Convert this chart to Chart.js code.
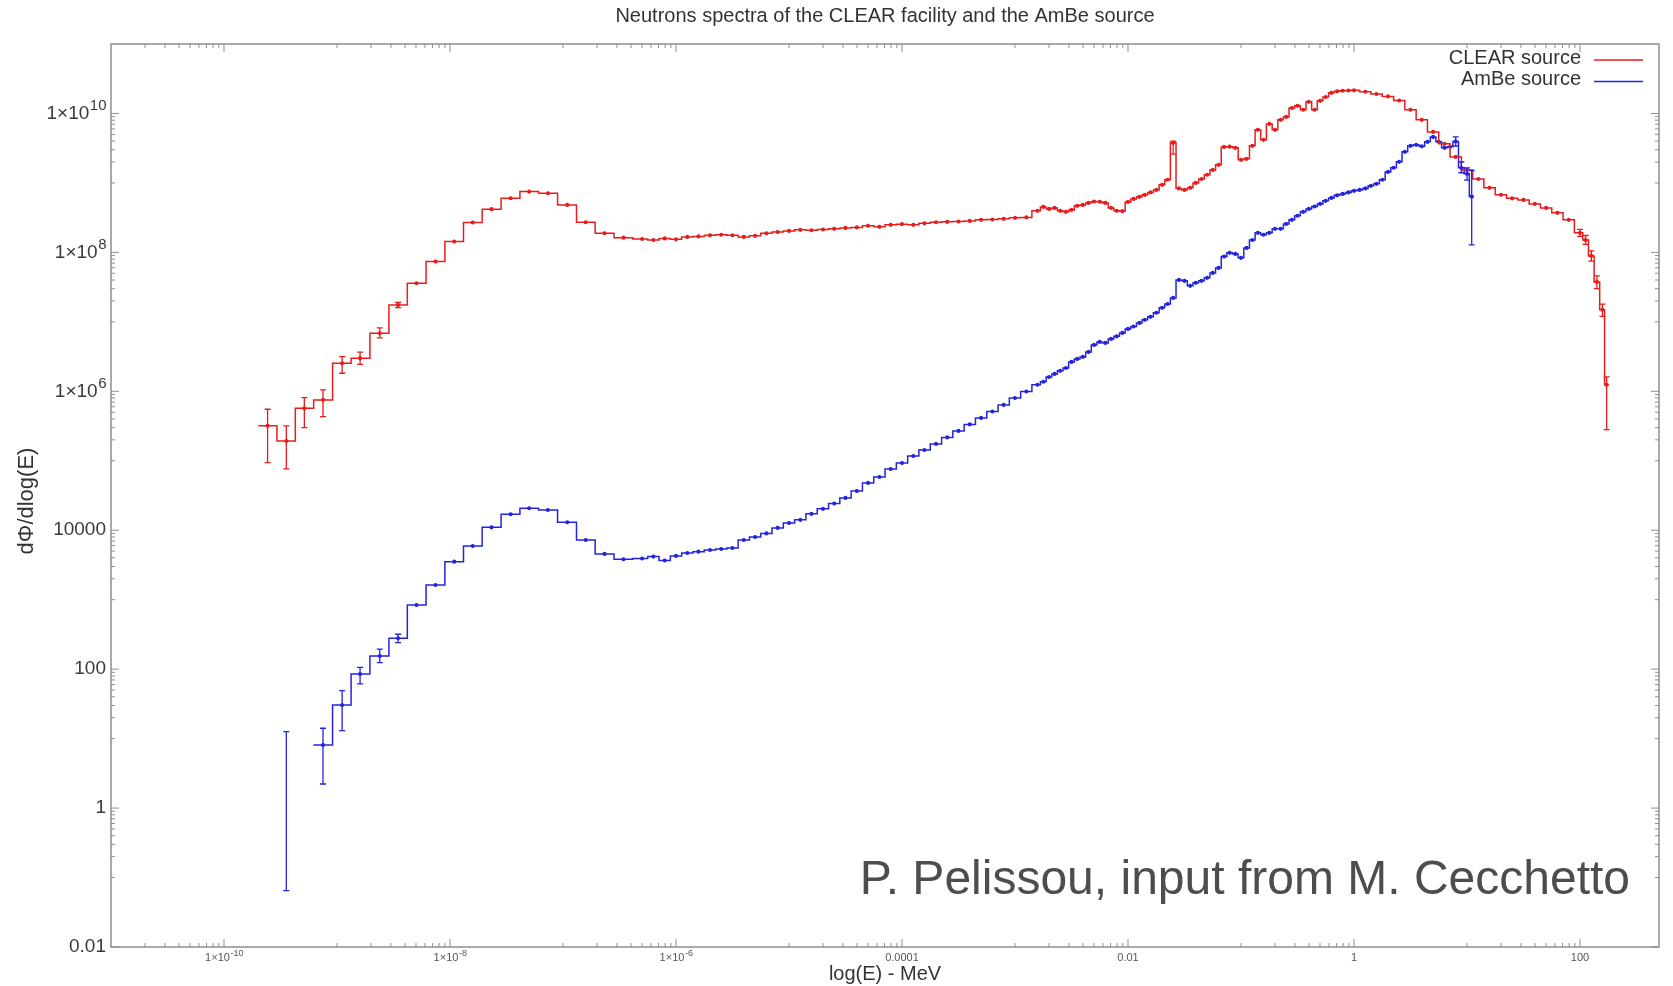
<!DOCTYPE html>
<html>
<head>
<meta charset="utf-8">
<title>Neutrons spectra</title>
<script src="https://cdn.jsdelivr.net/npm/chart.js@4.4.1/dist/chart.umd.min.js"></script>
<style>
  html, body { margin: 0; padding: 0; background: #fff; }
  #wrap { width: 1673px; height: 986px; }
</style>
</head>
<body>
<div id="wrap"><canvas id="spectra" width="1673" height="986"></canvas></div>
<script>
// Texts
const chartTitle = 'Neutrons spectra of the CLEAR facility and the AmBe source';
const xAxisTitle = 'log(E) - MeV';
const yAxisTitle = 'dΦ/dlog(E)';
const creditText = 'P. Pelissou, input from M. Cecchetto';

// Tick labels (^ marks an exponent)
const xTickValues = [1e-10, 1e-8, 1e-6, 1e-4, 0.01, 1, 100];
const xTickLabels = ['1×10^-10', '1×10^-8', '1×10^-6', '0.0001', '0.01', '1', '100'];
const yTickValues = [0.01, 1, 100, 10000, 1e6, 1e8, 1e10];
const yTickLabels = ['0.01', '1', '100', '10000', '1×10^6', '1×10^8', '1×10^10'];

// CLEAR facility spectrum: bin centres (MeV) and flux
const clearEnergy = [
  2.43e-10, 3.56e-10, 5.14e-10, 7.52e-10, 1.11e-9, 1.60e-9, 2.39e-9, 3.47e-9, 5.06e-9, 7.45e-9,
  1.09e-8, 1.59e-8, 2.33e-8, 3.44e-8, 5.02e-8, 7.35e-8, 1.09e-7, 1.59e-7, 2.33e-7, 3.43e-7,
  5.01e-7, 6.31e-7, 7.94e-7, 1.00e-6, 1.26e-6, 1.58e-6, 2.00e-6, 2.51e-6, 3.16e-6, 3.98e-6,
  5.01e-6, 6.31e-6, 7.94e-6, 1.00e-5, 1.26e-5, 1.58e-5, 2.00e-5, 2.51e-5, 3.16e-5, 3.98e-5,
  5.01e-5, 6.31e-5, 7.94e-5, 1.00e-4, 1.26e-4, 1.58e-4, 2.00e-4, 2.51e-4, 3.16e-4, 3.98e-4,
  5.01e-4, 6.31e-4, 7.94e-4, 1.00e-3, 1.26e-3,
  1.58e-3, 1.78e-3, 2.00e-3, 2.24e-3, 2.51e-3, 2.82e-3, 3.16e-3, 3.55e-3, 3.98e-3, 4.47e-3,
  5.01e-3, 5.62e-3, 6.31e-3, 7.08e-3, 7.94e-3, 8.91e-3, 0.0100, 0.0112, 0.0126, 0.0141,
  0.0158, 0.0178, 0.0200, 0.0224, 0.0251, 0.0282, 0.0316, 0.0355, 0.0398, 0.0447,
  0.0501, 0.0562, 0.0631, 0.0708, 0.0794, 0.0891, 0.100, 0.112, 0.126, 0.141,
  0.158, 0.178, 0.200, 0.224, 0.251, 0.282, 0.316, 0.355, 0.398, 0.447,
  0.501, 0.562, 0.631, 0.708, 0.794, 0.891, 1.00,
  1.26, 1.58, 2.00, 2.51, 3.16, 3.98, 5.01, 6.31, 7.94, 10.0,
  12.6, 15.8, 20.0, 25.1, 31.6, 39.8, 50.1, 63.1, 79.4, 100,
  112, 126, 141, 158, 172
];
const clearFlux = [
  3.18e5, 1.93e5, 5.71e5, 7.52e5, 2.54e6, 3.0e6, 6.86e6, 1.75e7, 3.6e7, 7.4e7,
  1.43e8, 2.69e8, 4.19e8, 6.03e8, 7.5e8, 7.1e8, 4.83e8, 2.72e8, 1.89e8, 1.63e8,
  1.56e8, 1.51e8, 1.59e8, 1.54e8, 1.67e8, 1.70e8, 1.76e8, 1.79e8, 1.76e8, 1.67e8,
  1.73e8, 1.88e8, 1.97e8, 2.04e8, 2.11e8, 2.08e8, 2.14e8, 2.18e8, 2.25e8, 2.29e8,
  2.41e8, 2.33e8, 2.49e8, 2.55e8, 2.49e8, 2.62e8, 2.72e8, 2.75e8, 2.79e8, 2.84e8,
  2.94e8, 2.98e8, 3.04e8, 3.14e8, 3.19e8,
  3.96e8, 4.52e8, 4.23e8, 4.37e8, 3.96e8, 3.83e8, 4.09e8, 4.68e8, 4.83e8, 5.16e8,
  5.39e8, 5.35e8, 5.16e8, 4.37e8, 3.96e8, 3.92e8, 5.33e8, 5.89e8, 6.30e8, 6.73e8,
  7.31e8, 7.94e8, 9.38e8, 1.11e9, 3.78e9, 8.34e8, 7.94e8, 8.49e8, 1.00e9, 1.14e9,
  1.31e9, 1.54e9, 1.82e9, 3.30e9, 3.33e9, 3.20e9, 2.15e9, 2.22e9, 3.42e9, 5.81e9,
  4.17e9, 7.08e9, 5.81e9, 8.09e9, 8.93e9, 1.20e10, 1.29e10, 1.13e10, 1.47e10, 1.13e10,
  1.52e10, 1.73e10, 1.98e10, 2.08e10, 2.12e10, 2.14e10, 2.15e10,
  2.05e10, 1.91e10, 1.76e10, 1.54e10, 1.13e10, 8.09e9, 5.43e9, 3.65e9, 2.37e9, 1.54e9,
  1.14e9, 8.49e8, 6.73e8, 6.0e8, 5.70e8, 4.99e8, 4.37e8, 3.71e8, 2.94e8, 1.91e8,
  1.51e8, 8.9e7, 3.76e7, 1.49e7, 1.24e6
];
const clearErrEnergy = [2.43e-10, 3.56e-10, 5.14e-10, 7.52e-10, 1.11e-9, 1.60e-9, 2.39e-9, 3.47e-9, 0.0251, 100, 112, 126, 141, 158, 172];
const clearErrLow    = [9.4e4, 7.64e4, 3.0e5, 4.33e5, 1.82e6, 2.45e6, 5.87e6, 1.6e7, 2.6e9, 1.7e8, 1.3e8, 7.5e7, 3.0e7, 1.2e7, 2.8e5];
const clearErrHigh   = [5.52e5, 3.18e5, 8.1e5, 1.05e6, 3.16e6, 3.66e6, 8.2e6, 1.9e7, 4.0e9, 2.15e8, 1.75e8, 1.05e8, 4.6e7, 1.8e7, 1.61e6];

// AmBe source spectrum
const ambeEnergy = [
  7.52e-10, 1.11e-9, 1.60e-9, 2.39e-9, 3.47e-9, 5.06e-9, 7.45e-9, 1.09e-8, 1.59e-8, 2.33e-8,
  3.44e-8, 5.02e-8, 7.35e-8, 1.09e-7, 1.59e-7, 2.33e-7, 3.43e-7,
  5.01e-7, 6.31e-7, 7.94e-7, 1.00e-6, 1.26e-6, 1.58e-6, 2.00e-6, 2.51e-6, 3.16e-6, 3.98e-6,
  5.01e-6, 6.31e-6, 7.94e-6, 1.00e-5, 1.26e-5, 1.58e-5, 2.00e-5, 2.51e-5, 3.16e-5, 3.98e-5,
  5.01e-5, 6.31e-5, 7.94e-5, 1.00e-4, 1.26e-4, 1.58e-4, 2.00e-4, 2.51e-4, 3.16e-4, 3.98e-4,
  5.01e-4, 6.31e-4, 7.94e-4, 1.00e-3, 1.26e-3,
  1.58e-3, 1.78e-3, 2.00e-3, 2.24e-3, 2.51e-3, 2.82e-3, 3.16e-3, 3.55e-3, 3.98e-3, 4.47e-3,
  5.01e-3, 5.62e-3, 6.31e-3, 7.08e-3, 7.94e-3, 8.91e-3, 0.0100, 0.0112, 0.0126, 0.0141,
  0.0158, 0.0178, 0.0200, 0.0224, 0.0251, 0.0282, 0.0316, 0.0355, 0.0398, 0.0447,
  0.0501, 0.0562, 0.0631, 0.0708, 0.0794, 0.0891, 0.100, 0.112, 0.126, 0.141,
  0.158, 0.178, 0.200, 0.224, 0.251, 0.282, 0.316, 0.355, 0.398, 0.447,
  0.501, 0.562, 0.631, 0.708, 0.794, 0.891, 1.00, 1.12, 1.26, 1.41,
  1.58, 1.78, 2.00, 2.24, 2.51, 2.82, 3.16, 3.55, 3.98, 4.47,
  5.01, 5.62, 6.31, 7.08, 7.94, 8.91, 10.0, 11.0
];
const ambeFlux = [
  8.1, 30.5, 85.3, 155, 279, 840, 1630, 3530, 5940, 1.10e4,
  1.70e4, 2.07e4, 1.96e4, 1.30e4, 7250, 4560, 3820,
  3920, 4170, 3670, 4270, 4710, 4920, 5200, 5380, 5560, 7250,
  8000, 9000, 1.08e4, 1.27e4, 1.41e4, 1.72e4, 2.03e4, 2.43e4, 2.92e4, 3.68e4,
  4.80e4, 5.85e4, 7.63e4, 9.3e4, 1.17e5, 1.43e5, 1.75e5, 2.17e5, 2.69e5, 3.34e5,
  4.14e5, 5.13e5, 6.37e5, 8.0e5, 9.96e5,
  1.24e6, 1.37e6, 1.61e6, 1.78e6, 1.97e6, 2.17e6, 2.65e6, 2.93e6, 3.13e6, 3.69e6,
  4.66e6, 5.14e6, 4.98e6, 5.68e6, 6.18e6, 6.93e6, 7.92e6, 8.55e6, 9.66e6, 1.07e7,
  1.18e7, 1.35e7, 1.59e7, 1.81e7, 2.21e7, 4.02e7, 3.89e7, 3.30e7, 3.64e7, 3.89e7,
  4.30e7, 5.07e7, 5.98e7, 8.7e7, 9.84e7, 9.51e7, 8.34e7, 1.16e8, 1.51e8, 1.91e8,
  1.79e8, 1.91e8, 2.18e8, 2.18e8, 2.57e8, 2.94e8, 3.36e8, 3.83e8, 4.23e8, 4.57e8,
  4.99e8, 5.52e8, 6.09e8, 6.62e8, 6.95e8, 7.31e8, 7.69e8, 7.94e8, 8.34e8, 9.07e8,
  9.69e8, 1.11e9, 1.44e9, 1.65e9, 2.01e9, 2.80e9, 3.42e9, 3.53e9, 3.36e9, 3.90e9,
  4.60e9, 3.90e9, 3.20e9, 3.31e9, 3.96e9, 1.65e9, 1.35e9, 6.36e8
];
const ambeErrEnergy = [3.56e-10, 7.52e-10, 1.11e-9, 1.60e-9, 2.39e-9, 3.47e-9, 7.94, 8.91, 10.0, 11.0];
const ambeErrLow    = [0.065, 2.22, 13.0, 61.2, 124, 241, 3.4e9, 1.4e9, 1.1e9, 1.28e8];
const ambeErrHigh   = [12.6, 14.1, 49, 106, 194, 318, 4.6e9, 2.0e9, 1.65e9, 1.51e9];

const FONT = '"Liberation Sans", Arial, sans-serif';
const RED = '#e81c1c';
const BLUE = '#2424e0';

function toPoints(xs, ys) {
  return xs.map((x, i) => ({ x: x, y: ys[i] }));
}

// draws "a^b" with a raised exponent
function drawSupLabel(ctx, label, x, y, size, align) {
  const parts = label.split('^');
  const base = parts[0], exp = parts[1] || '';
  const expSize = Math.round(size * 0.78);
  ctx.font = size + 'px ' + FONT;
  const bw = ctx.measureText(base).width;
  ctx.font = expSize + 'px ' + FONT;
  const ew = exp ? ctx.measureText(exp).width : 0;
  const x0 = align === 'right' ? x - bw - ew : x - (bw + ew) / 2;
  ctx.textAlign = 'left';
  ctx.textBaseline = 'middle';
  ctx.font = size + 'px ' + FONT;
  ctx.fillText(base, x0, y);
  if (exp) {
    ctx.font = expSize + 'px ' + FONT;
    ctx.fillText(exp, x0 + bw + 0.5, y - size * 0.4);
  }
}

function minorTicks(majors, min, max) {
  const out = [];
  majors.concat([majors[majors.length - 1] * 100]).forEach(m => {
    for (let k = 1; k <= 9; k++) {
      const v = k * m / 10;
      if (v > min * 1.0001 && v < max * 0.9999) out.push(v);
    }
  });
  return out;
}

// error bars and the outer half bins of each histogram
const histExtras = {
  id: 'histExtras',
  afterDatasetsDraw(chart) {
    const ctx = chart.ctx, xs = chart.scales.x, ys = chart.scales.y;
    const area = chart.chartArea;
    ctx.save();
    ctx.beginPath();
    ctx.rect(area.left, area.top, area.right - area.left, area.bottom - area.top);
    ctx.clip();

    chart.data.datasets.forEach((ds, di) => {
      const pts = chart.getDatasetMeta(di).data;
      const n = pts.length;
      if (n < 2) return;
      ctx.strokeStyle = ds.borderColor;
      ctx.lineWidth = ds.borderWidth;
      ctx.beginPath();
      ctx.moveTo(pts[0].x - (pts[1].x - pts[0].x) / 2, pts[0].y);
      ctx.lineTo(pts[0].x, pts[0].y);
      ctx.moveTo(pts[n - 1].x, pts[n - 1].y);
      ctx.lineTo(pts[n - 1].x + (pts[n - 1].x - pts[n - 2].x) / 2, pts[n - 1].y);
      ctx.stroke();
    });

    const sets = [
      [clearErrEnergy, clearErrLow, clearErrHigh, RED],
      [ambeErrEnergy, ambeErrLow, ambeErrHigh, BLUE]
    ];
    ctx.lineWidth = 1.3;
    sets.forEach(([es, lo, hi, color]) => {
      ctx.strokeStyle = color;
      es.forEach((e, i) => {
        const px = xs.getPixelForValue(e);
        const y1 = ys.getPixelForValue(lo[i]);
        const y2 = ys.getPixelForValue(hi[i]);
        ctx.beginPath();
        ctx.moveTo(px, y1); ctx.lineTo(px, y2);
        ctx.moveTo(px - 3, y1); ctx.lineTo(px + 3, y1);
        ctx.moveTo(px - 3, y2); ctx.lineTo(px + 3, y2);
        ctx.stroke();
      });
    });
    ctx.restore();
  }
};

const frameAndText = {
  id: 'frameAndText',
  afterDraw(chart) {
    const ctx = chart.ctx, xs = chart.scales.x, ys = chart.scales.y;
    const { left, right, top, bottom } = chart.chartArea;
    ctx.save();

    // border
    ctx.strokeStyle = '#8f8f8f';
    ctx.lineWidth = 1.5;
    ctx.strokeRect(left, top, right - left, bottom - top);

    // ticks, inward and mirrored
    ctx.lineWidth = 1;
    ctx.beginPath();
    const xMinor = minorTicks(xTickValues, xs.min, xs.max);
    const yMinor = minorTicks(yTickValues, ys.min, ys.max);
    xTickValues.forEach(v => {
      const p = xs.getPixelForValue(v);
      ctx.moveTo(p, bottom); ctx.lineTo(p, bottom - 8);
      ctx.moveTo(p, top); ctx.lineTo(p, top + 8);
    });
    xMinor.forEach(v => {
      const p = xs.getPixelForValue(v);
      ctx.moveTo(p, bottom); ctx.lineTo(p, bottom - 4);
      ctx.moveTo(p, top); ctx.lineTo(p, top + 4);
    });
    yTickValues.forEach(v => {
      const p = ys.getPixelForValue(v);
      ctx.moveTo(left, p); ctx.lineTo(left + 8, p);
      ctx.moveTo(right, p); ctx.lineTo(right - 8, p);
    });
    yMinor.forEach(v => {
      const p = ys.getPixelForValue(v);
      ctx.moveTo(left, p); ctx.lineTo(left + 4, p);
      ctx.moveTo(right, p); ctx.lineTo(right - 4, p);
    });
    ctx.stroke();

    // tick labels
    ctx.fillStyle = '#3a3a3a';
    yTickValues.forEach((v, i) => {
      drawSupLabel(ctx, yTickLabels[i], left - 5, ys.getPixelForValue(v), 19, 'right');
    });
    ctx.fillStyle = '#555';
    xTickValues.forEach((v, i) => {
      drawSupLabel(ctx, xTickLabels[i], xs.getPixelForValue(v), bottom + 11, 11, 'center');
    });

    // title
    ctx.fillStyle = '#333';
    ctx.font = '20px ' + FONT;
    ctx.textAlign = 'center';
    ctx.textBaseline = 'middle';
    ctx.fillText(chartTitle, (left + right) / 2, 16);

    // y axis title
    ctx.save();
    ctx.translate(27, 501);
    ctx.rotate(-Math.PI / 2);
    ctx.font = '22px ' + FONT;
    ctx.fillText(yAxisTitle, 0, 0);
    ctx.restore();

    // legend: text then line sample, top right inside the frame
    ctx.font = '20px ' + FONT;
    ctx.textAlign = 'right';
    chart.data.datasets.forEach((ds, i) => {
      const y = top + 14 + i * 21.5;
      ctx.fillStyle = '#333';
      ctx.fillText(ds.label, right - 78, y);
      ctx.strokeStyle = ds.borderColor;
      ctx.lineWidth = 1.6;
      ctx.beginPath();
      ctx.moveTo(right - 65, y + 2);
      ctx.lineTo(right - 16, y + 2);
      ctx.stroke();
    });

    // credit line
    ctx.fillStyle = '#4d4d4d';
    ctx.font = '48px ' + FONT;
    ctx.textAlign = 'right';
    ctx.textBaseline = 'alphabetic';
    ctx.fillText(creditText, 1630, 894);

    ctx.restore();
  }
};

new Chart(document.getElementById('spectra'), {
  type: 'line',
  data: {
    datasets: [
      {
        label: 'CLEAR source',
        data: toPoints(clearEnergy, clearFlux),
        borderColor: RED,
        backgroundColor: RED,
        borderWidth: 1.5,
        stepped: 'middle',
        pointRadius: 1.3,
        pointHoverRadius: 1.3,
        fill: false
      },
      {
        label: 'AmBe source',
        data: toPoints(ambeEnergy, ambeFlux),
        borderColor: BLUE,
        backgroundColor: BLUE,
        borderWidth: 1.5,
        stepped: 'middle',
        pointRadius: 1.3,
        pointHoverRadius: 1.3,
        fill: false
      }
    ]
  },
  options: {
    responsive: false,
    animation: false,
    devicePixelRatio: 1,
    layout: { padding: { top: 44, right: 14, left: 0, bottom: 0 } },
    plugins: {
      legend: { display: false },
      title: { display: false },
      tooltip: { enabled: false }
    },
    scales: {
      x: {
        type: 'logarithmic',
        min: 1e-11,
        max: 500,
        bounds: 'data',
        grid: { display: false, drawTicks: false },
        border: { display: false },
        ticks: { display: false },
        title: {
          display: true, text: xAxisTitle, color: '#333',
          font: { family: FONT, size: 20 }, padding: { top: 0, bottom: 0 }
        },
        afterFit(scale) { scale.height = 39; }
      },
      y: {
        type: 'logarithmic',
        min: 0.01,
        max: 1e11,
        bounds: 'data',
        grid: { display: false, drawTicks: false },
        border: { display: false },
        ticks: { display: false },
        title: { display: false, text: yAxisTitle },
        afterFit(scale) { scale.width = 111; }
      }
    }
  },
  plugins: [histExtras, frameAndText]
});
</script>
</body>
</html>
